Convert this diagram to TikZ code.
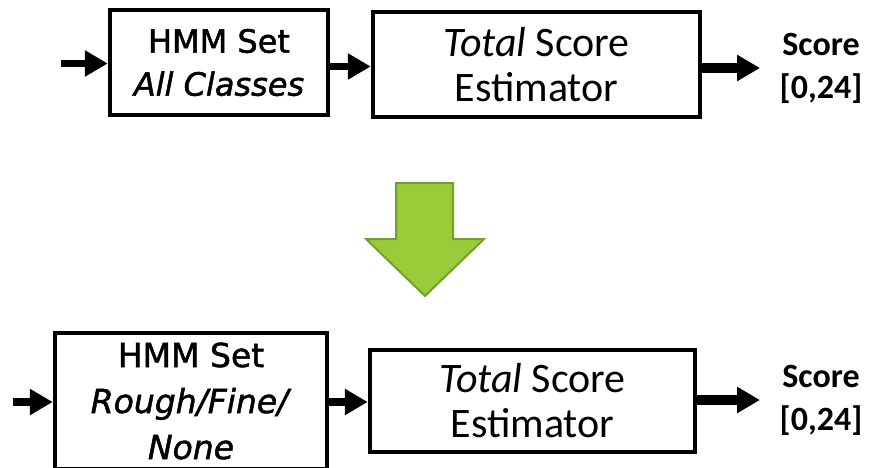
\documentclass[tikz,border=0pt]{standalone}
\usepackage{fontspec}
\setmainfont{Carlito}
\newfontfamily\tahoma[FakeBold=1.5]{DejaVu Sans}
\usetikzlibrary{arrows.meta}
\definecolor{greenfill}{HTML}{9ACC3A}
\definecolor{greenedge}{HTML}{73A02C}
\tikzset{
  blockbox/.style={draw=black, line width=4.5pt, rectangle, inner sep=0pt, align=center},
  hmmtext/.style={font=\tahoma\fontsize{32}{43}\selectfont},
  tottext/.style={font=\fontsize{42}{45}\selectfont},
  scoretext/.style={font=\bfseries\fontsize{34}{43}\selectfont, align=center, inner sep=0pt},
  flowarrow/.style={line width=7.5pt, -{Triangle[length=23pt,width=25pt]}},
  outarrow/.style={line width=10pt, -{Triangle[length=23pt,width=25pt]}},
}
\begin{document}
\begin{tikzpicture}[x=1pt,y=-1pt]
\useasboundingbox (0,0) rectangle (873,467);
\clip (0,0) rectangle (873,467);
% top row
\node[blockbox, hmmtext, minimum width=218pt, minimum height=105pt] (hmm1) at (219,62.5) {HMM Set\\\textit{All Classes}};
\node[blockbox, tottext, minimum width=327pt, minimum height=105pt] (tot1) at (536.5,64.5) {\textit{Total} Score\\Estimator};
\node[scoretext] (sc1) at (821,68) {Score\\{}[0,24]};
\coordinate (in1) at (61,63.5);
\coordinate (mid1) at (328,66.5);
\coordinate (out1) at (760,68);
\draw[flowarrow] (in1) -- (in1 -| hmm1.west);
\draw[flowarrow] (mid1) -- (mid1 -| tot1.west);
\draw[outarrow] (tot1.east |- out1) -- (out1);
% green arrow
\draw[fill=greenfill, draw=greenedge, line width=2pt, line join=miter]
  (396,183) -- (453,183) -- (453,239) -- (484,239) -- (425,296) -- (366,239) -- (396,239) -- cycle;
% bottom row
\node[blockbox, font=\tahoma\fontsize{33}{46}\selectfont, minimum width=272pt, minimum height=136pt] (hmm2) at (191,401) {HMM Set\\\textit{Rough/Fine/}\\\textit{None}};
\node[blockbox, tottext, minimum width=325pt, minimum height=102pt] (tot2) at (532.5,401) {\textit{Total} Score\\Estimator};
\node[scoretext] (sc2) at (821,400) {Score\\{}[0,24]};
\coordinate (in2) at (13,402);
\coordinate (mid2) at (327,402);
\coordinate (out2) at (760,400);
\draw[flowarrow] (in2) -- (in2 -| hmm2.west);
\draw[flowarrow] (mid2) -- (mid2 -| tot2.west);
\draw[outarrow] (tot2.east |- out2) -- (out2);
\end{tikzpicture}
\end{document}
